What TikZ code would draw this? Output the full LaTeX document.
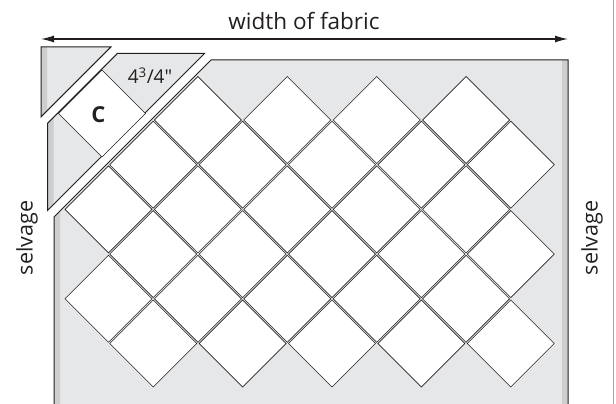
\documentclass[tikz,border=0pt]{standalone}
\usepackage{fontspec}
\setmainfont{Open Sans}
\newfontfamily\inchfont{Open Sans}
\usepackage{xcolor}
\usetikzlibrary{arrows.meta}

\definecolor{fabricgrey}{HTML}{E6E7E8}
\definecolor{selvagegrey}{HTML}{CDCED0}
\definecolor{ink}{HTML}{231F20}

\begin{document}
\begin{tikzpicture}[x=1pt, y=-1pt,
        % Define styles for the fabric pieces and the blocks
        fabric/.style={fill=fabricgrey},
        selvedge/.style={fill=selvagegrey},
        cutedge/.style={draw=ink, line width=1pt, line join=miter},
        block/.style={draw=ink, fill=white, line width=0.6pt},
        label/.style={text=ink, inner sep=0pt}]

        \useasboundingbox (0,0) rectangle (616,404);

        % 1. Define the corners of the large piece
        \coordinate (TR) at (568, 60);
        \coordinate (BL) at (54, 410);
        \coordinate (BR) at (568, 410);
        \coordinate (Btop) at (211, 60);   % second cut
        \coordinate (Bleft) at (54, 217);

        % 2. The large piece with the blocks
        \fill[fabric] (Btop) -- (TR) -- (BR) -- (BL) -- (Bleft) -- cycle;
        \fill[selvedge] (Bleft) -- ++(6,-6) -- (60,410) -- (BL) -- cycle;
        \fill[selvedge] (562,60) rectangle (BR);
        \draw[cutedge] (BL) -- (Bleft) -- (Btop) -- (TR) -- (BR);

        \foreach \k/\first in {0/1, 1/0, 2/0, 3/0, 4/0, 5/0} {
            \foreach \j in {\first,...,4} {
                \pgfmathsetmacro{\cx}{108.5 + 89.4*\j + 44.7*mod(\k,2)}
                \pgfmathsetmacro{\cy}{120 + 44.7*\k}
                \draw[block] (\cx,\cy) ++(-43.5,0) -- ++(43.5,-43.5)
                    -- ++(43.5,43.5) -- ++(-43.5,43.5) -- cycle;
            }
        }

        % 3. The strip between the two cuts (moved up and left)
        \begin{scope}[shift={(-6.5,-6.5)}]
            \fill[fabric] (123.8,60) -- (211,60) -- (54,217) -- (54,129.8) -- cycle;
            \fill[selvedge] (54,129.8) -- (60,123.8) -- (60,211) -- (54,217) -- cycle;
            \draw[cutedge] (123.8,60) -- (211,60) -- (54,217) -- (54,129.8) -- cycle;
            \draw[block] (108.5,120) ++(-43.5,0) -- ++(43.5,-43.5)
                -- ++(43.5,43.5) -- ++(-43.5,43.5) -- cycle;
            \node[label, font=\fontsize{22}{26}\selectfont\bfseries] (blockC) at (105,121) {C};
            \node[label, font=\inchfont\fontsize{19}{23}\selectfont] (cutsize) at (156.5,82) {4\textsuperscript{3}/4"};
        \end{scope}

        % 4. The corner triangle (moved further up and left)
        \begin{scope}[shift={(-13,-13)}]
            \fill[fabric] (54,60) -- (123.8,60) -- (54,129.8) -- cycle;
            \fill[selvedge] (54,60) -- (60,60) -- (60,123.8) -- (54,129.8) -- cycle;
            \draw[cutedge] (54,60) -- (123.8,60) -- (54,129.8) -- cycle;
        \end{scope}

        % 5. Width of the fabric
        \coordinate (arrowL) at (41, 39);
        \coordinate (arrowR) at (568, 39);
        \draw[ink, line width=1.2pt, {Latex[length=13pt, width=7pt]}-{Latex[length=13pt, width=7pt]}] (arrowL) -- (arrowR);
        \node[label, anchor=base, font=\fontsize{22.5}{27}\selectfont] (widthlabel) at (304, 30) {width of fabric};

        % 6. Selvage labels
        \node[label, rotate=90, font=\fontsize{21.5}{26}\selectfont] (selvageL) at (27, 238) {selvage};
        \node[label, rotate=90, font=\fontsize{21.5}{26}\selectfont] (selvageR) at (592, 238) {selvage};

        % 7. Border on the right
        \draw[black!35, line width=1.5pt] (613.5,0) -- (613.5,404);

    \end{tikzpicture}
\end{document}
